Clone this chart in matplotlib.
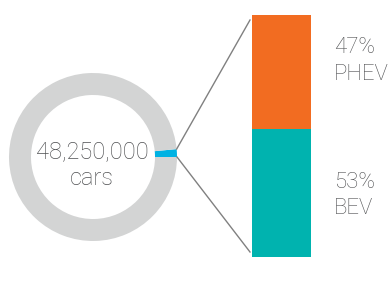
import numpy as np
import matplotlib.pyplot as plt

# data
total_cars = 48250000
ev_share = 1.5            # % of all cars (blue slice)
seg_labels = ['BEV', 'PHEV']
seg_values = [53, 47]
seg_colors = ['#00B3AF', '#F26C21']

text_color = '#4F5052'
plt.rcParams['font.family'] = ['Roboto', 'DejaVu Sans']
fs = 16
fw = 'light'

fig = plt.figure(figsize=(3.88, 2.86), dpi=100)
ax = fig.add_axes([0, 0, 1, 1])

# donut
cx, cy, r = 93, 129, 84
ax.pie([ev_share, 100 - ev_share], colors=['#00B2E3', '#D3D4D4'],
       center=(cx, cy), radius=r, startangle=0, counterclock=True,
       wedgeprops=dict(width=22, linewidth=0))
ax.set_xlim(0, 388)
ax.set_ylim(0, 286)
ax.set_aspect('equal')
ax.axis('off')

ax.text(cx - 1, 128, f'{total_cars:,}', ha='center', va='baseline',
        fontsize=17, fontweight=fw, color=text_color)
ax.text(cx - 1, 101, 'cars', ha='center', va='baseline',
        fontsize=17, fontweight=fw, color=text_color)

# stacked bar
bx = fig.add_axes([252 / 388, 29 / 286, 59 / 388, 242 / 286])
bottom = 0
for v, c in zip(seg_values, seg_colors):
    bx.bar(0, v, bottom=bottom, width=1, color=c, linewidth=0)
    bottom += v
bx.set_xlim(-0.5, 0.5)
bx.set_ylim(0, sum(seg_values))
bx.axis('off')

# connector lines from slice to bar
ang = np.deg2rad(360 * ev_share / 100)
ax.plot([cx + r * np.cos(ang), 250], [cy + r * np.sin(ang), 266],
        color='#808080', lw=1)
ax.plot([cx + r, 250], [cy, 34], color='#808080', lw=1)

# labels
ax.text(334, 286 - 53, f'{seg_values[1]}%', ha='left', va='baseline',
        fontsize=fs, fontweight=fw, color=text_color)
ax.text(334, 286 - 80, seg_labels[1], ha='left', va='baseline',
        fontsize=fs, fontweight=fw, color=text_color)
ax.text(334, 286 - 188, f'{seg_values[0]}%', ha='left', va='baseline',
        fontsize=fs, fontweight=fw, color=text_color)
ax.text(334, 286 - 214, seg_labels[0], ha='left', va='baseline',
        fontsize=fs, fontweight=fw, color=text_color)

fig.savefig('out.png', dpi=100)
